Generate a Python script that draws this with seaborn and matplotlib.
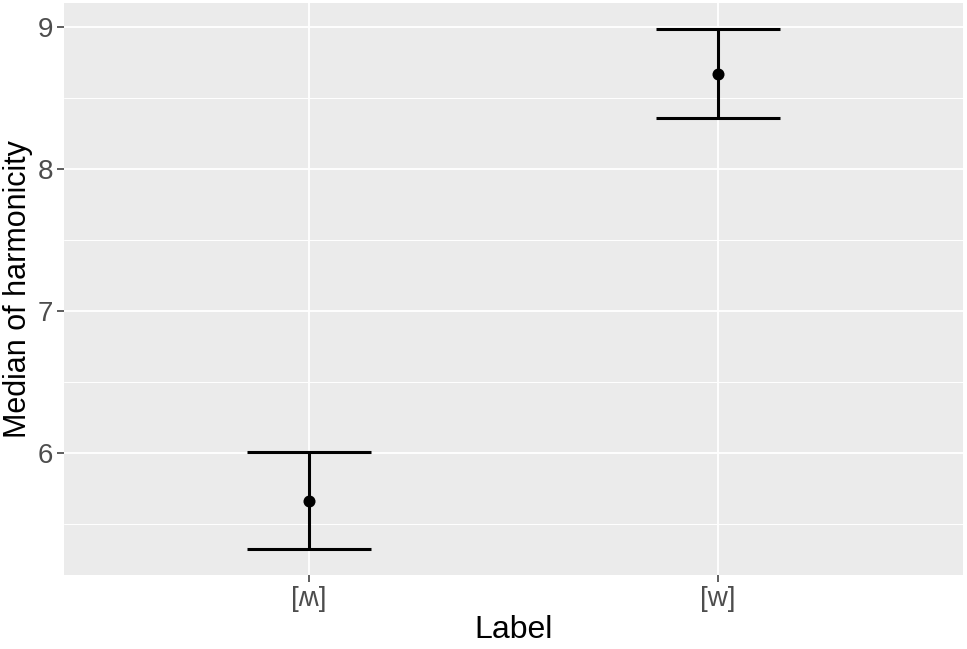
import matplotlib
matplotlib.use("Agg")
import matplotlib.pyplot as plt
import seaborn as sns
from matplotlib.ticker import FixedLocator

# data
labels = ["[ʍ]", "[w]"]
means = [5.66, 8.67]
lower = [5.32, 8.36]
upper = [6.01, 8.99]

sns.set_theme(style="darkgrid", rc={
    "axes.facecolor": "#EBEBEB",
    "grid.color": "white",
})
plt.rcParams["font.family"] = ["Liberation Sans", "DejaVu Sans"]

fig = plt.figure(figsize=(9.67, 6.49), dpi=100)
ax = fig.add_axes([64 / 967, (649 - 575) / 649, (963 - 64) / 967, (575 - 3) / 649])

err_lo = [m - l for m, l in zip(means, lower)]
err_hi = [u - m for m, u in zip(means, upper)]
ax.errorbar(labels, means, yerr=[err_lo, err_hi], fmt="none",
            ecolor="black", elinewidth=2.2, capsize=44.6, capthick=2.2, zorder=3)
sns.scatterplot(x=labels, y=means, color="black", s=75, edgecolor="black",
                linewidth=0, zorder=4, ax=ax)

ax.set_xlim(-0.6, 1.6)
ax.set_ylim(5.14, 9.17)
ax.yaxis.set_major_locator(FixedLocator([6, 7, 8, 9]))
ax.yaxis.set_minor_locator(FixedLocator([5.5, 6.5, 7.5, 8.5]))
ax.grid(which="major", color="white", linewidth=1.3)
ax.grid(which="minor", color="white", linewidth=0.7)
ax.set_axisbelow(True)

for s in ax.spines.values():
    s.set_visible(False)

ax.tick_params(axis="both", which="major", length=5, width=1.1, color="#333333",
               labelsize=20, labelcolor="#4D4D4D", pad=3, left=True, bottom=True)
ax.tick_params(axis="y", which="minor", length=0)

ax.set_xlabel("Label", fontsize=23, color="black", labelpad=2)
ax.set_ylabel("Median of harmonicity", fontsize=22, color="black", labelpad=3)

fig.savefig("out.png", dpi=100)
